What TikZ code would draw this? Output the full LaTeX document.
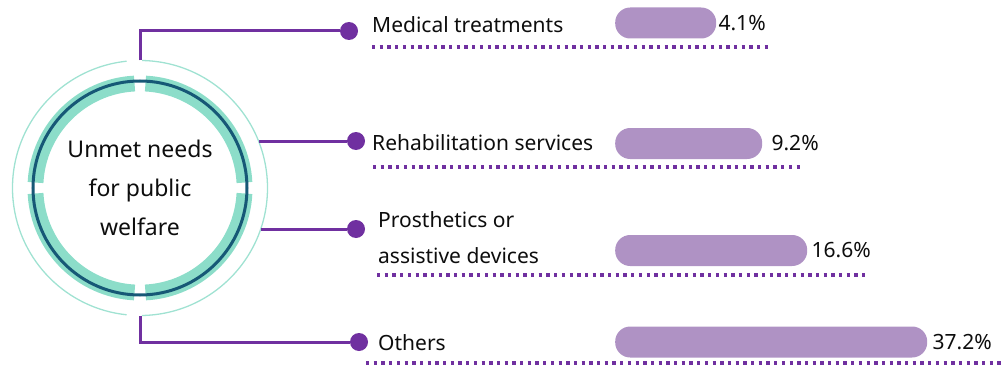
\documentclass[tikz,border=0pt]{standalone}
\usepackage{fontspec}
\setmainfont{Noto Sans}
\usepackage{xcolor}
\usepackage{tikz}
\usetikzlibrary{positioning}
\definecolor{needpurple}{RGB}{112,48,160}
\definecolor{barlilac}{RGB}{175,146,196}
\definecolor{ringteal}{RGB}{140,221,201}
\definecolor{ringline}{RGB}{160,226,210}
\definecolor{ringdark}{RGB}{22,88,118}
\tikzset{
dot/.style={circle,fill=needpurple,minimum size=18pt,inner sep=0pt},
link/.style={draw=needpurple,line width=3pt},
rule/.style={draw=needpurple,line width=3.3pt,dash pattern=on 3.3pt off 4.4pt},
bar/.style={fill=barlilac,rounded corners=15pt,anchor=west,minimum height=31pt,inner sep=0pt},
lbl/.style={anchor=west,inner sep=0pt,font=\fontsize{21}{36}\selectfont,text=black!95,align=left}
}

\begin{document}
\begin{tikzpicture}[x=1pt,y=1pt]
%\draw[help lines](0,0)grid[step=50](1001,365);
\useasboundingbox(0,0)rectangle(1001,365);
\node[circle,minimum size=255pt,inner sep=0pt,align=center,font=\fontsize{23}{39}\selectfont,text=black!95](hub)at(140,177){Unmet needs\\for public\\welfare};
\foreach\a in{3,93,183,273}\draw[ringteal,line width=15.8pt](hub.center)++(\a:104.6)arc[start angle=\a,delta angle=84,radius=104.6];
\draw[ringdark,line width=3pt](hub.center)circle[radius=107];
\draw[ringline,line width=1.3pt](hub.center)++(96:127.5)arc[start angle=96,end angle=264,radius=127.5];
\draw[ringline,line width=1.3pt](hub.center)++(-89:127.5)arc[start angle=-89,end angle=89,radius=127.5];

\node[dot](dotMed)at(349,334){};
\node[dot](dotReh)at(356,224){};
\node[dot](dotPro)at(356,136){};
\node[dot](dotOth)at(359,23){};
\draw[link](hub.north)|-(dotMed);
\draw[link](hub.21.6|-dotReh)--(dotReh);
\draw[link](hub.-18.76|-dotPro)--(dotPro);
\draw[link](hub.south)|-(dotOth);

\node[lbl](txtMed)at(372,340){Medical treatments};
\node[lbl](txtReh)at(372,222){Rehabilitation services};
\node[lbl](txtPro)at(378,127){Prosthetics or\\assistive devices};
\node[lbl](txtOth)at(378,22){Others};

\foreach\nm/\y/\w/\gap/\pct in{Med/342/101/2/4.1,Reh/221.5/147/9/9.2,Pro/114.5/192/4/16.6,Oth/23/312/5/37.2}{
\node[bar,minimum width=\w pt](bar\nm)at(615,\y){};
\node[lbl,right=\gap pt of bar\nm](pct\nm){\pct\%};
}

\draw[rule](372,318)--(772,318);
\draw[rule](373,198)--(803,198);
\draw[rule](377,90)--(868,90);
\draw[rule](366,2)--(1001,2);
\end{tikzpicture}
\end{document}
